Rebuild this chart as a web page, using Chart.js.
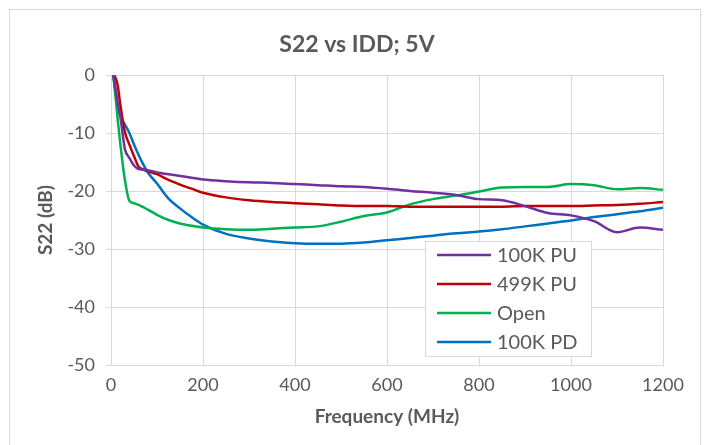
<!DOCTYPE html>
<html>
<head>
<meta charset="utf-8">
<script src="https://cdn.jsdelivr.net/npm/chart.js@4.4.1/dist/chart.umd.min.js"></script>
<style>
  html, body { margin: 0; padding: 0; background: #fff; }
  #wrap { width: 709px; height: 445px; position: relative; }
</style>
</head>
<body>
<div id="wrap"><canvas id="chartCanva" width="709" height="445"></canvas></div>
<script>
// frequency points (MHz) shared by all four traces
var freqMHz = [5, 10, 15, 20, 30, 40, 50, 60, 70, 80, 100, 125, 150, 175, 200, 250, 300, 350, 400,
  450, 500, 550, 600, 650, 700, 750, 800, 850, 900, 950, 1000, 1050, 1100, 1150, 1200];

// S22 (dB)
var s22_100kPU = [0, -2.5, -5, -7, -12.7, -14.3, -15.6, -16.2, -16.3, -16.4, -16.8, -17.1, -17.4, -17.7, -18,
  -18.3, -18.5, -18.6, -18.8, -19.0, -19.2, -19.3, -19.6, -20.0, -20.3, -20.7, -21.4, -21.6, -22.6,
  -23.8, -24.2, -25.2, -27.1, -26.3, -26.7];
var s22_499kPU = [0, -0.5, -2, -5, -9.8, -12, -14, -15.8, -16.3, -16.6, -17.1, -18.1, -18.9, -19.6, -20.3,
  -21.1, -21.6, -21.9, -22.1, -22.3, -22.5, -22.6, -22.6, -22.7, -22.7, -22.7, -22.7, -22.7, -22.6,
  -22.6, -22.6, -22.5, -22.4, -22.2, -21.9];
var s22_open = [0, -4, -8, -11.7, -18, -21.7, -22.1, -22.4, -22.8, -23.2, -24.1, -25, -25.6, -26, -26.3,
  -26.6, -26.7, -26.5, -26.3, -26.1, -25.3, -24.3, -23.7, -22.3, -21.4, -20.8, -20.1, -19.4, -19.3,
  -19.3, -18.8, -19.0, -19.7, -19.5, -19.8];
var s22_100kPD = [0, -3, -5.5, -7, -8.5, -10, -12, -13.8, -15.4, -16.8, -18.7, -21.3, -23, -24.5, -25.8,
  -27.4, -28.2, -28.7, -29, -29.1, -29.1, -28.9, -28.5, -28.1, -27.7, -27.3, -27, -26.6, -26.1,
  -25.6, -25.1, -24.5, -24, -23.5, -22.9];

var seriesNames = ['100K PU', '499K PU', 'Open', '100K PD'];
var seriesColors = ['#7030A0', '#C00000', '#00B050', '#0070C0'];
var seriesValues = [s22_100kPU, s22_499kPU, s22_open, s22_100kPD];

var txt = '#595959';
var gridCol = '#d9d9d9';
var fam = 'Lato, "Open Sans", sans-serif';

function pts(ys) {
  return freqMHz.map(function (f, i) { return { x: f, y: ys[i] }; });
}

var datasets = seriesNames.map(function (n, i) {
  return {
    label: n,
    data: pts(seriesValues[i]),
    borderColor: seriesColors[i],
    backgroundColor: seriesColors[i],
    borderWidth: 2.5,
    pointRadius: 0,
    cubicInterpolationMode: 'monotone',
    fill: false
  };
});

// frame, title and the boxed legend inside the plot
var decor = {
  id: 'decor',
  beforeDraw: function (chart) {
    var c = chart.ctx;
    c.save();
    c.fillStyle = '#fff';
    c.fillRect(0, 0, chart.width, chart.height);
    c.strokeStyle = gridCol;
    c.lineWidth = 1;
    c.strokeRect(9.5, 9.5, 691, 440);
    c.restore();
  },
  afterDraw: function (chart) {
    var c = chart.ctx;
    c.save();
    c.fillStyle = txt;
    c.font = 'bold 23px ' + fam;
    c.textAlign = 'center';
    c.textBaseline = 'middle';
    c.fillText('S22 vs IDD; 5V', 357, 45);

    // legend box
    c.fillStyle = '#fff';
    c.fillRect(425, 241, 167, 116);
    c.strokeStyle = gridCol;
    c.lineWidth = 1;
    c.strokeRect(425.5, 241.5, 166, 115);
    c.font = '20px ' + fam;
    c.textAlign = 'left';
    chart.data.datasets.forEach(function (ds, i) {
      var y = 255 + i * 29;
      c.strokeStyle = ds.borderColor;
      c.lineWidth = 2.5;
      c.beginPath();
      c.moveTo(437, y);
      c.lineTo(491, y);
      c.stroke();
      c.fillStyle = txt;
      c.fillText(ds.label, 497, y + 1);
    });
    c.restore();
  }
};

var config = {
  type: 'line',
  data: { datasets: datasets },
  options: {
    responsive: false,
    animation: false,
    layout: { padding: { top: 75, right: 46, bottom: 0, left: 0 } },
    plugins: {
      legend: { display: false },
      title: { display: false },
      tooltip: { enabled: false }
    },
    scales: {
      x: {
        type: 'linear',
        min: 0,
        max: 1200,
        afterFit: function (s) { s.height = 80; },
        ticks: { stepSize: 200, color: txt, font: { family: fam, size: 18 }, padding: 9, maxRotation: 0,
          callback: function (v) { return String(v); } },
        grid: { color: gridCol, drawTicks: false },
        border: { color: gridCol },
        title: { display: true, text: 'Frequency (MHz)', color: txt, font: { family: fam, size: 19, weight: 'bold' }, padding: { top: 0, bottom: 17 } }
      },
      y: {
        min: -50,
        max: 0,
        afterFit: function (s) { s.width = 111; },
        ticks: { stepSize: 10, color: txt, font: { family: fam, size: 18 }, padding: 11,
          callback: function (v) { return String(v); } },
        grid: { color: gridCol, drawTicks: true, tickLength: 5 },
        border: { color: gridCol },
        title: { display: true, text: 'S22 (dB)', color: txt, font: { family: fam, size: 19, weight: 'bold' }, padding: { top: 34, bottom: 0 } }
      }
    }
  },
  plugins: [decor]
};

var myChart = new Chart(document.getElementById('chartCanva'), config);
</script>
</body>
</html>
